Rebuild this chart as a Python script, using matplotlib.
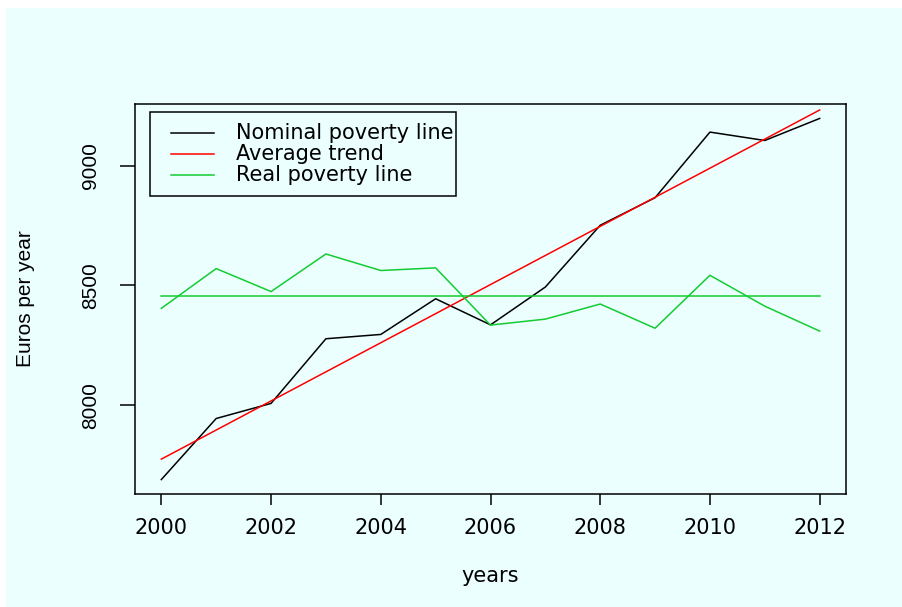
import numpy as np
import matplotlib.pyplot as plt
from matplotlib.patches import Rectangle

years = np.arange(2000, 2013)
nominal = [7689, 7944, 8007, 8277, 8295, 8444, 8335, 8493, 8751, 8866, 9140, 9105, 9197]
real = [8404, 8570, 8474, 8631, 8562, 8573, 8334, 8359, 8422, 8321, 8542, 8413, 8309]
labels = ['Nominal poverty line', 'Average trend', 'Real poverty line']
colors = ['black', '#FF0000', '#14CC32']
xticks = [2000, 2002, 2004, 2006, 2008, 2010, 2012]
yticks = [8000, 8500, 9000]

bg = '#EBFFFF'
hfont = 'DejaVu Sans'
vfont = ['Liberation Sans', 'DejaVu Sans']

# trend = linear fit of the nominal line, real line shown with its mean
slope, icpt = np.polyfit(years, nominal, 1)
trend = slope * years + icpt
real_mean = np.mean(real)

fig = plt.figure(figsize=(9.03, 6.07), dpi=100, facecolor='white')
fig.patches.append(Rectangle((6 / 903, 0), 1, 1 - 8 / 607, transform=fig.transFigure,
                             facecolor=bg, edgecolor='none', zorder=-10))
ax = fig.add_axes([135 / 903, 1 - 494 / 607, 711 / 903, 390 / 607])
ax.set_facecolor(bg)

ax.plot(years, nominal, color=colors[0], lw=1.1)
ax.plot(years, trend, color=colors[1], lw=1.1)
ax.plot(years, real, color=colors[2], lw=1.1)
ax.plot(years[[0, -1]], [real_mean, real_mean], color=colors[2], lw=1.1)

# R style limits: 4% around the nominal series
rng = max(nominal) - min(nominal)
ax.set_ylim(min(nominal) - 0.04 * rng, max(nominal) + 0.04 * rng)
ax.set_xlim(2000 - 0.48, 2012 + 0.48)

ax.set_xticks(xticks)
ax.set_xticklabels([str(t) for t in xticks], fontsize=15, family=hfont)
ax.set_yticks(yticks)
ax.set_yticklabels([str(t) for t in yticks], fontsize=15, family=vfont,
                   rotation=90, va='center')
ax.tick_params(axis='x', length=8, width=1.1, pad=9.4)
ax.tick_params(axis='y', length=10.8, width=1.1, pad=14.5)
for s in ax.spines.values():
    s.set_linewidth(1.1)

ax.set_xlabel('years', fontsize=15, family=hfont)
ax.xaxis.set_label_coords(0.499, -0.225)
ax.xaxis.label.set_va('baseline')
ax.set_ylabel('Euros per year', fontsize=15, family=vfont)
ax.yaxis.set_label_coords(-0.1547, 0.5)
ax.yaxis.label.set_va('center')

# legend box, drawn by hand to keep R's spacing
ax.add_patch(Rectangle((0.0211, 0.7641), 0.4304, 0.2154, transform=ax.transAxes,
                       facecolor='none', edgecolor='black', lw=1.1, zorder=5))
rows = [0.9249, 0.8710, 0.8172]
for lab, c, ry in zip(labels, colors, rows):
    ax.plot([0.0506, 0.1111], [ry, ry], color=c, lw=1.1, transform=ax.transAxes)
    ax.text(0.1421, ry, lab, transform=ax.transAxes, fontsize=15, family=hfont,
            va='center', ha='left')

fig.savefig('out.png', dpi=100, facecolor='white')
